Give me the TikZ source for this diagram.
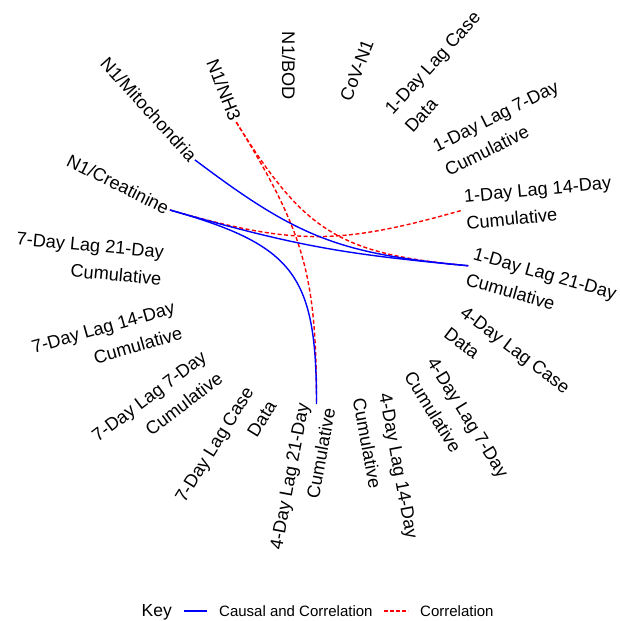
\documentclass[tikz,border=0pt]{standalone}
\usepackage{fontspec}
\setmainfont{Liberation Sans}
\usetikzlibrary{calc}
\definecolor{edgeblue}{RGB}{0,0,255}
\definecolor{edgered}{RGB}{255,0,0}
\begin{document}
\begin{tikzpicture}[x=1pt,y=1pt,
  lab/.style={font=\fontsize{18.2}{27}\selectfont, inner xsep=2pt, inner ysep=0pt},
  rlab/.style={lab, anchor=west, align=left},
  llab/.style={lab, anchor=east, align=right},
  causal/.style={draw=edgeblue, line width=1.4pt},
  corr/.style={draw=edgered, line width=1.4pt, dash pattern=on 4pt off 2.5pt},
  keyblue/.style={draw=edgeblue, line width=2pt},
  keyred/.style={draw=edgered, line width=2pt, dash pattern=on 3.5pt off 2.5pt},
  keytext/.style={font=\fontsize{15}{18}\selectfont, anchor=base west, inner sep=0pt}]
\useasboundingbox (0,0) rectangle (619,621);
\coordinate (C) at (316.5,369.3);
\def\R{152.4}
% legend first
\coordinate (kb1) at (184,9.5);
\coordinate (kb2) at (207,9.5);
\coordinate (kr1) at (384,9.5);
\coordinate (kr2) at (408,9.5);
\path[keyblue] (kb1) -- (kb2);
\path[keyred] (kr1) -- (kr2);
\node[font=\fontsize{17.5}{20}\selectfont, anchor=base west, inner sep=0pt] (key) at (141.5,4.5) {Key};
\node[keytext] (kct) at (219,4.5) {Causal and Correlation};
\node[keytext] (kcr) at (420,4.5) {Correlation};
% node points
\coordinate (pBOD)  at ($(C)+(100.588:\R)$);
\coordinate (pCOV)  at ($(C)+(79.412:\R)$);
\coordinate (p1DC)  at ($(C)+(58.235:\R)$);
\coordinate (p1D7)  at ($(C)+(37.059:\R)$);
\coordinate (p1D14) at ($(C)+(15.882:\R)$);
\coordinate (p1D21) at ($(C)+(-5.294:\R)$);
\coordinate (p4DC)  at ($(C)+(-26.471:\R)$);
\coordinate (p4D7)  at ($(C)+(-47.647:\R)$);
\coordinate (p4D14) at ($(C)+(-68.824:\R)$);
\coordinate (p4D21) at ($(C)+(-90:\R)$);
\coordinate (p7DC)  at ($(C)+(248.824:\R)$);
\coordinate (p7D7)  at ($(C)+(227.647:\R)$);
\coordinate (p7D14) at ($(C)+(206.471:\R)$);
\coordinate (p7D21) at ($(C)+(185.294:\R)$);
\coordinate (pCRE)  at ($(C)+(164.118:\R)$);
\coordinate (pMIT)  at ($(C)+(142.941:\R)$);
\coordinate (pNH3)  at ($(C)+(121.765:\R)$);
% labels
\node[llab, rotate=-90]     (lBOD)  at (pBOD)  {N1/BOD};
\node[rlab, rotate=68.824]  (lCOV)  at (pCOV)  {CoV-N1};
\node[rlab, rotate=47.647]  (l1DC)  at (p1DC)  {1-Day Lag Case\\Data};
\node[rlab, rotate=26.471]  (l1D7)  at (p1D7)  {1-Day Lag 7-Day\\Cumulative};
\node[rlab, rotate=5.294]   (l1D14) at (p1D14) {1-Day Lag 14-Day\\Cumulative};
\node[rlab, rotate=-15.882] (l1D21) at (p1D21) {1-Day Lag 21-Day\\Cumulative};
\node[rlab, rotate=-37.059] (l4DC)  at (p4DC)  {4-Day Lag Case\\Data};
\node[rlab, rotate=-58.235] (l4D7)  at (p4D7)  {4-Day Lag 7-Day\\Cumulative};
\node[rlab, rotate=-79.412] (l4D14) at (p4D14) {4-Day Lag 14-Day\\Cumulative};
\node[llab, rotate=79.412]  (l4D21) at (p4D21) {4-Day Lag 21-Day\\Cumulative};
\node[llab, rotate=58.235]  (l7DC)  at (p7DC)  {7-Day Lag Case\\Data};
\node[llab, rotate=37.059]  (l7D7)  at (p7D7)  {7-Day Lag 7-Day\\Cumulative};
\node[llab, rotate=15.882]  (l7D14) at (p7D14) {7-Day Lag 14-Day\\Cumulative};
\node[llab, rotate=-5.294]  (l7D21) at (p7D21) {7-Day Lag 21-Day\\Cumulative};
\node[llab, rotate=-26.471] (lCRE)  at (pCRE)  {N1/Creatinine};
\node[llab, rotate=-47.647] (lMIT)  at (pMIT)  {N1/Mitochondria};
\node[llab, rotate=-68.824] (lNH3)  at (pNH3)  {N1/NH3};
% correlation edges
\draw[corr] (pNH3) .. controls ($(pNH3)!0.85!(C)$) and ($(p4D21)!0.85!(C)$) .. (p4D21);
\draw[corr] (pNH3) .. controls ($(pNH3)!0.85!(C)$) and ($(p1D21)!0.85!(C)$) .. (p1D21);
\draw[corr] (pCRE) .. controls ($(pCRE)!0.85!(C)$) and ($(p1D14)!0.85!(C)$) .. (p1D14);
% causal and correlation edges
\draw[causal] (pMIT) .. controls ($(pMIT)!0.85!(C)$) and ($(p1D21)!0.85!(C)$) .. (p1D21);
\draw[causal] (pCRE) .. controls ($(pCRE)!0.85!(C)$) and ($(p1D21)!0.85!(C)$) .. (p1D21);
\draw[causal] (pCRE) .. controls ($(pCRE)!0.85!(C)$) and ($(p4D21)!0.85!(C)$) .. (p4D21);
\end{tikzpicture}
\end{document}
